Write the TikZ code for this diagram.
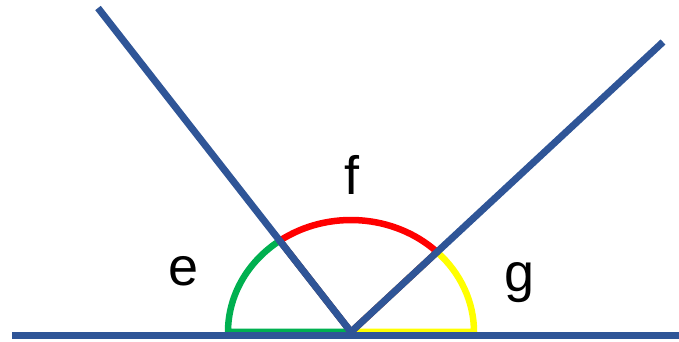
\documentclass[tikz,border=0pt]{standalone}
\usepackage{fontspec}
\setmainfont{Liberation Sans}
\definecolor{lineblue}{HTML}{2F5597}
\definecolor{arcgreen}{HTML}{00B050}
\definecolor{arcred}{HTML}{FF0000}
\definecolor{arcyellow}{HTML}{FFFF00}
\begin{document}
\begin{tikzpicture}[x=1pt,y=1pt,
  rayline/.style={draw=lineblue,line width=7pt},
  sector/.style={line width=6.5pt,line join=round},
  lbl/.style={inner sep=0pt,anchor=base,font=\fontsize{54}{60}\selectfont}]
\useasboundingbox (0,0) rectangle (679,342);
\coordinate (O) at (351,10);
\coordinate (A) at (98,334);
\coordinate (B) at (663,300);
\coordinate (L) at (12,6.5);
\coordinate (R) at (679,6.5);
% sectors
\draw[sector,arcgreen] (O) -- ([shift={(180:123 and 112)}]O) arc[start angle=180,end angle=125.4,x radius=123,y radius=112] -- cycle;
\draw[sector,arcyellow] (O) -- ([shift={(0:123 and 112)}]O) arc[start angle=0,end angle=45.6,x radius=123,y radius=112] -- cycle;
\draw[sector,arcred] (O) -- ([shift={(45.6:123 and 112)}]O) arc[start angle=45.6,end angle=125.4,x radius=123,y radius=112] -- cycle;
% rays
\draw[rayline] (O) -- (A);
\draw[rayline] (O) -- (B);
\draw[rayline] (L) -- (R);
% labels
\node[lbl] (e) at (184,56) {e};
\node[lbl] (f) at (352,147) {f};
\node[lbl] (g) at (520,50) {g};
\end{tikzpicture}
\end{document}
